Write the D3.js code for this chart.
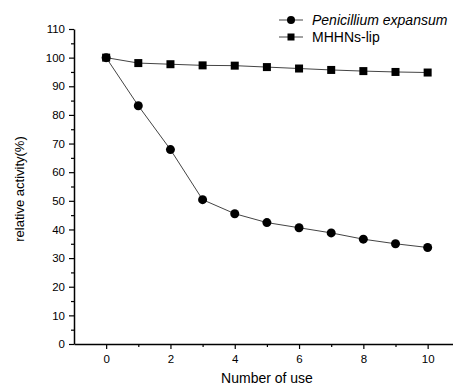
<!DOCTYPE html>
<html><head><meta charset="utf-8">
<script src="https://cdn.jsdelivr.net/npm/d3@7"></script>
<style>body{margin:0;background:#fff}svg{display:block;font-family:Arial,"Liberation Sans",sans-serif}</style>
</head><body>
<svg id="c" width="453" height="387"></svg>
<script>
const uses = [0,1,2,3,4,5,6,7,8,9,10];
const penicillium = [100,83.2,67.9,50.4,45.5,42.4,40.6,38.8,36.6,35.0,33.7];
const mhhns = [100,98.1,97.7,97.3,97.2,96.7,96.2,95.7,95.3,95.0,94.8];
const yTicks = [0,10,20,30,40,50,60,70,80,90,100,110];
const xTicks = [0,2,4,6,8,10];
const seriesNames = ["Penicillium expansum","MHHNs-lip"];

const svg = d3.select("#c");
const x = d3.scaleLinear().domain([-1,11]).range([74,459.8]);
const y = d3.scaleLinear().domain([0,110]).range([344,29]);

// minor ticks
svg.append("g").attr("transform","translate(0,344)")
  .call(d3.axisBottom(x).tickValues([1,3,5,7,9]).tickSize(3).tickFormat(""))
  .call(g=>g.select(".domain").remove());
svg.append("g").attr("transform","translate(74,0)")
  .call(d3.axisLeft(y).tickValues(d3.range(5,110,10)).tickSize(3).tickFormat(""))
  .call(g=>g.select(".domain").remove());

const xa = svg.append("g").attr("transform","translate(0,344)")
  .call(d3.axisBottom(x).tickValues(xTicks).tickSize(5).tickSizeOuter(0).tickPadding(6));
xa.selectAll("text").attr("font-size",11.5).attr("font-family","Arial").attr("fill","#000");
const ya = svg.append("g").attr("transform","translate(74,0)")
  .call(d3.axisLeft(y).tickValues(yTicks).tickSize(5).tickSizeOuter(0).tickPadding(4));
ya.selectAll("text").attr("font-size",11.5).attr("font-family","Arial").attr("fill","#000");
svg.selectAll(".domain").attr("stroke","#000").attr("stroke-width",1.5);
svg.selectAll(".tick line").attr("stroke","#000").attr("stroke-width",1.2);

svg.append("text").attr("x",267).attr("y",383).attr("text-anchor","middle")
  .attr("font-size",14).text("Number of use");
svg.append("text").attr("transform","translate(24,189) rotate(-90)").attr("text-anchor","middle")
  .attr("font-size",13).text("relative activity(%)");

const line = d3.line().x((d,i)=>x(uses[i])).y(d=>y(d));
svg.append("path").datum(mhhns).attr("d",line).attr("fill","none").attr("stroke","#444").attr("stroke-width",1);
svg.append("path").datum(penicillium).attr("d",line).attr("fill","none").attr("stroke","#444").attr("stroke-width",1);

svg.selectAll(".sq").data(mhhns).enter().append("rect")
  .attr("x",(d,i)=>x(uses[i])-4).attr("y",d=>y(d)-4).attr("width",8).attr("height",8).attr("fill","#000");
svg.selectAll(".ci").data(penicillium).enter().append("circle")
  .attr("cx",(d,i)=>x(uses[i])).attr("cy",d=>y(d)).attr("r",4.5).attr("fill","#000");

// legend
const lg = svg.append("g");
[0,1].forEach(k=>{
  const yy = k===0?20:37;
  lg.append("line").attr("x1",279).attr("x2",303).attr("y1",yy).attr("y2",yy).attr("stroke","#444");
  if(k===0) lg.append("circle").attr("cx",291).attr("cy",yy).attr("r",4).attr("fill","#000");
  else lg.append("rect").attr("x",287.5).attr("y",yy-3.5).attr("width",7).attr("height",7).attr("fill","#000");
  lg.append("text").attr("x",312).attr("y",yy+5).attr("font-size",14)
    .attr("font-style",k===0?"italic":"normal").text(seriesNames[k]);
});
</script>
</body></html>
